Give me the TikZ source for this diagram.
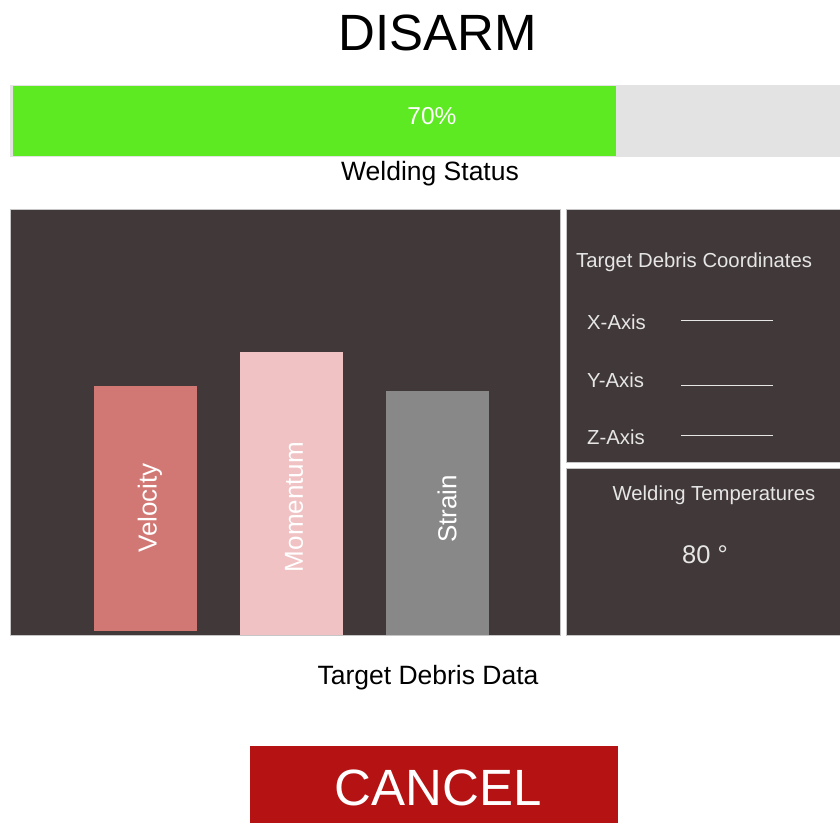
\documentclass[tikz,border=0pt]{standalone}
\usepackage{fontspec}
\setmainfont{Liberation Sans}
\definecolor{barGreen}{HTML}{5EEA22}
\definecolor{barGray}{HTML}{E3E3E3}
\definecolor{panelDark}{HTML}{413839}
\definecolor{velCol}{HTML}{D27874}
\definecolor{momCol}{HTML}{F0C2C3}
\definecolor{strCol}{HTML}{888888}
\definecolor{cancelRed}{HTML}{B51313}
\definecolor{softWhite}{HTML}{E6E6E6}
\begin{document}
\begin{tikzpicture}[x=1pt,y=1pt,
  blk/.style={rectangle, inner sep=0pt, outer sep=0pt, anchor=north west},
  panel/.style={blk, fill=panelDark, draw=gray!45, line width=0.8pt},
  bar/.style={blk, draw=none},
  lbl/.style={inner sep=0pt, font=\fontsize{26.5}{30}\selectfont},
  barlbl/.style={inner sep=0pt, text=white, rotate=90, font=\fontsize{26}{30}\selectfont},
  small/.style={inner sep=0pt, text=softWhite, font=\fontsize{20.3}{24}\selectfont},
  axisline/.style={softWhite, line width=1pt}
]
\useasboundingbox (0,0) rectangle (840,-823);
\fill[white] (0,0) rectangle (840,-823);

% title
\node[inner sep=0pt, font=\fontsize{51}{60}\selectfont] (title) at (438,-33) {DISARM};

% progress bar
\node[blk, fill=barGray, minimum width=830, minimum height=72] (track) at (10,-85) {};
\node[blk, fill=barGreen, minimum width=603, minimum height=70] (fill) at (13,-86) {};
\node[lbl, text=white, font=\fontsize{24.5}{28}\selectfont] (pct) at (432,-116) {70\%};
\node[lbl] (wstatus) at (430,-174) {Welding Status};

% panels
\node[panel, minimum width=550, minimum height=426] (left) at (10,-209) {};
\node[panel, minimum width=274, minimum height=253] (coords) at (566,-209) {};
\node[panel, minimum width=274, minimum height=167] (temps) at (566,-468) {};

% bars
\node[bar, fill=velCol, minimum width=103, minimum height=245] (vel) at (94,-386) {};
\node[bar, fill=momCol, minimum width=103, minimum height=283] (mom) at (240,-352) {};
\node[bar, fill=strCol, minimum width=103, minimum height=244] (str) at (386,-391) {};
\node[barlbl] (vellbl) at (150,-508) {Velocity};
\node[barlbl] (momlbl) at (294,-507) {Momentum};
\node[barlbl] (strlbl) at (447,-509) {Strain};

% coordinates panel
\node[small, anchor=west] (tdc) at (576,-262) {Target Debris Coordinates};
\node[small, anchor=west] (xax) at (587,-322) {X-Axis};
\node[small, anchor=west] (yax) at (587,-380) {Y-Axis};
\node[small, anchor=west] (zax) at (587,-437) {Z-Axis};
\coordinate (xs) at (681,-320); \coordinate (xe) at (773,-320);
\coordinate (ys) at (681,-385); \coordinate (ye) at (773,-385);
\coordinate (zs) at (681,-435); \coordinate (ze) at (773,-435);
\draw[axisline] (xs) -- (xe);
\draw[axisline] (ys) -- (ye);
\draw[axisline] (zs) -- (ze);

% temperatures panel
\node[small] (wtemp) at (714,-495) {Welding Temperatures};
\node[small, font=\fontsize{25.5}{30}\selectfont] (deg) at (705,-555) {80 °};

% caption
\node[lbl] (tdd) at (428,-678) {Target Debris Data};

% cancel button
\node[blk, fill=cancelRed, minimum width=368, minimum height=77] (cancel) at (250,-746) {};
\node[inner sep=0pt, text=white, font=\fontsize{51}{60}\selectfont] (cancellbl) at (438,-788) {CANCEL};
\end{tikzpicture}
\end{document}
